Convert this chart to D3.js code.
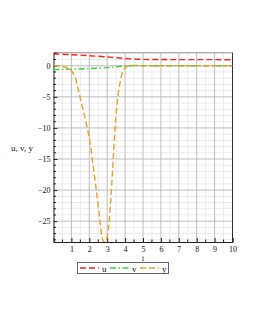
<!DOCTYPE html>
<html><head><meta charset="utf-8">
<script src="https://cdn.jsdelivr.net/npm/d3@7"></script>
<style>body{margin:0;background:#fff}svg{display:block}</style>
</head><body>
<script>
const tUV = [0, 1, 2, 3, 3.5, 4, 4.5, 5, 6, 7, 8, 9, 10];
const uVals = [1.9, 1.78, 1.62, 1.42, 1.3, 1.17, 1.08, 1.03, 1.0, 0.99, 0.98, 0.98, 0.97];
const vVals = [-0.62, -0.55, -0.45, -0.3, -0.18, -0.03, 0, 0, 0, 0, 0, 0, 0];
const tY = [0, 0.5, 0.8, 1.0, 1.2, 1.4, 1.6, 1.8, 2.0, 2.2, 2.4, 2.6, 2.7, 2.8, 2.9, 3.0, 3.1, 3.2, 3.3, 3.4, 3.5, 3.6, 3.7, 3.8, 3.9, 4.0, 4.2, 5, 6, 7, 8, 9, 10];
const yVals = [0, -0.12, -0.4, -0.8, -1.8, -4.0, -6.5, -8.9, -11.6, -15.8, -20.2, -25, -27.4, -28.3, -28.3, -27.5, -25.3, -21.6, -16.8, -11.8, -7.8, -4.9, -3.0, -1.6, -0.8, -0.35, 0, 0, 0, 0, 0, 0, 0];
const xTicks = [1, 2, 3, 4, 5, 6, 7, 8, 9, 10];
const yTicks = [0, -5, -10, -15, -20, -25];
const seriesNames = ["u", "v", "y"];
const seriesColors = ["#ff2020", "#44cc44", "#e0a428"];

const W = 255, H = 330;
const L = 53.5, R = 232.5, T = 52.7, B = 242;
const svg = d3.select("body").append("svg").attr("width", W).attr("height", H);
const x = d3.scaleLinear().domain([0, 10]).range([L, R]);
const y = d3.scaleLinear().domain([2.1, -28.35]).range([T, B]);
const font = "'Liberation Serif', 'DejaVu Serif', serif";

// minor grid
const g = svg.append("g");
d3.range(0.5, 10, 1).forEach(v => g.append("line").attr("x1", x(v)).attr("x2", x(v)).attr("y1", T).attr("y2", B).attr("stroke", "#ebebeb").attr("stroke-width", 1));
d3.range(-28, 3, 1).filter(v => v % 5 !== 0).forEach(v => g.append("line").attr("x1", L).attr("x2", R).attr("y1", y(v)).attr("y2", y(v)).attr("stroke", "#ebebeb").attr("stroke-width", 1));
// major grid
xTicks.forEach(v => g.append("line").attr("x1", x(v)).attr("x2", x(v)).attr("y1", T).attr("y2", B).attr("stroke", "#bdbdbd").attr("stroke-width", 1));
yTicks.forEach(v => g.append("line").attr("x1", L).attr("x2", R).attr("y1", y(v)).attr("y2", y(v)).attr("stroke", "#bdbdbd").attr("stroke-width", 1));
// frame
svg.append("line").attr("x1", L).attr("x2", R).attr("y1", T).attr("y2", T).attr("stroke", "#999");
svg.append("line").attr("x1", R).attr("x2", R).attr("y1", T).attr("y2", B).attr("stroke", "#333");

// axes
const xAxis = d3.axisBottom(x).tickValues(xTicks).tickSize(-4).tickPadding(4).tickFormat(d3.format("d"));
const gx = svg.append("g").attr("transform", `translate(0,${B})`).call(xAxis);
const yAxis = d3.axisLeft(y).tickValues(yTicks).tickSize(-4).tickPadding(3).tickFormat(d => d < 0 ? "\u2212" + Math.abs(d) : d);
const gy = svg.append("g").attr("transform", `translate(${L},0)`).call(yAxis);
[gx, gy].forEach(a => {
  a.select(".domain").attr("stroke", "#222");
  a.selectAll(".tick line").attr("stroke", "#222");
  a.selectAll("text").attr("font-family", font).attr("font-size", 8).attr("fill", "#111");
});
// minor ticks
d3.range(0.5, 10, 1).forEach(v => svg.append("line").attr("x1", x(v)).attr("x2", x(v)).attr("y1", B).attr("y2", B - 2.5).attr("stroke", "#222"));
d3.range(-28, 3, 1).filter(v => v % 5 !== 0).forEach(v => svg.append("line").attr("x1", L).attr("x2", L + 2.5).attr("y1", y(v)).attr("y2", y(v)).attr("stroke", "#222"));

// clip
svg.append("clipPath").attr("id", "clip").append("rect").attr("x", L).attr("y", T).attr("width", R - L).attr("height", B - T);

const line = d3.line().x(d => x(d[0])).y(d => y(d[1])).curve(d3.curveCatmullRom.alpha(0.5));
const series = [
  { pts: tUV.map((t, i) => [t, uVals[i]]), dash: "6,3" },
  { pts: tUV.map((t, i) => [t, vVals[i]]), dash: "6,2.5,1.5,2.5" },
  { pts: tY.map((t, i) => [t, yVals[i]]), dash: "6,3" }
];
const lg = svg.append("g").attr("clip-path", "url(#clip)");
series.forEach((s, i) => {
  lg.append("path").attr("d", line(s.pts)).attr("fill", "none").attr("stroke", seriesColors[i]).attr("stroke-width", 1.4).attr("stroke-dasharray", s.dash);
});

// labels
svg.append("text").attr("x", 22).attr("y", 151).attr("text-anchor", "middle").attr("font-family", font).attr("font-size", 9).attr("fill", "#111").text("u, v, y");
svg.append("text").attr("x", 143).attr("y", 260.5).attr("text-anchor", "middle").attr("font-family", font).attr("font-size", 8).attr("fill", "#111").text("t");

// legend
const leg = svg.append("g");
leg.append("rect").attr("x", 77.5).attr("y", 262.5).attr("width", 91).attr("height", 11).attr("fill", "#fff").attr("stroke", "#666").attr("stroke-width", 1);
seriesNames.forEach((n, i) => {
  const x0 = 80 + i * 30;
  leg.append("line").attr("x1", x0).attr("x2", x0 + 19).attr("y1", 268).attr("y2", 268).attr("stroke", seriesColors[i]).attr("stroke-width", 1.4).attr("stroke-dasharray", series[i].dash);
  leg.append("text").attr("x", x0 + 22).attr("y", 271.5).attr("font-family", font).attr("font-size", 9).attr("fill", "#111").text(n);
});
</script>
</body></html>
